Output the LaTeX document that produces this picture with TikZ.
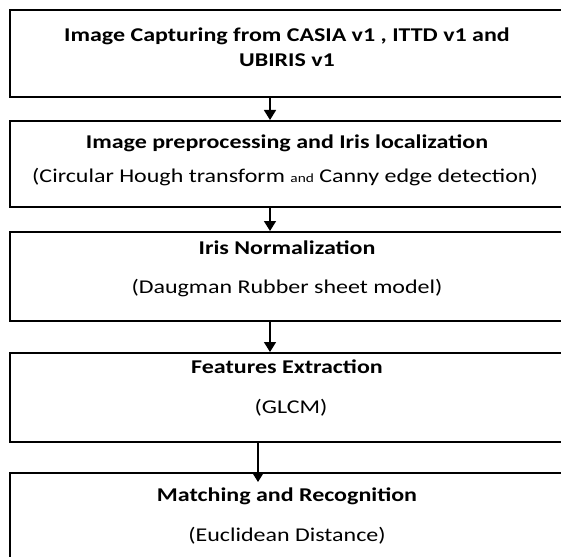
\documentclass[tikz,border=0pt]{standalone}
\usepackage{fontspec}
\setmainfont{Carlito}[FakeStretch=1.23]
\usetikzlibrary{arrows.meta}
\begin{document}
\begin{tikzpicture}[x=1pt,y=-1pt,
  box/.style={draw, line width=2pt, minimum width=565pt, inner sep=0pt},
  title/.style={font=\bfseries\fontsize{19.5}{25}\selectfont, inner sep=0pt, align=center},
  sub/.style={font=\fontsize{19.5}{24}\selectfont, inner sep=0pt},
  flow/.style={-{Triangle[length=10pt,width=12pt]}, line width=1.5pt}]
\useasboundingbox (0,0) rectangle (561,556);
\clip (0,0) rectangle (561,556);
% boxes
\node[box, minimum height=87pt] (b1) at (292.5,53.5) {};
\node[box, minimum height=86pt] (b2) at (292.5,164) {};
\node[box, minimum height=89pt] (b3) at (292.5,276.5) {};
\node[box, minimum height=89pt] (b4) at (292.5,397.5) {};
\node[box, minimum height=130pt] (b5) at (292.5,538) {};
% texts
\node[title] (t1) at (287,47) {Image Capturing from CASIA v1 , ITTD v1 and\\UBIRIS v1};
\node[title] (t2) at (287,143) {Image preprocessing and Iris localization};
\node[sub] (s2) at (285,177) {(Circular Hough transform {\fontsize{12.5}{14}\selectfont and} Canny edge detection)};
\node[title] (t3) at (287,248) {Iris Normalization};
\node[sub] (s3) at (287,288) {(Daugman Rubber sheet model)};
\node[title] (t4) at (287,367) {Features Extraction};
\node[sub] (s4) at (291,408) {(GLCM)};
\node[title] (t5) at (287,496) {Matching and Recognition};
\node[sub] (s5) at (287,536) {(Euclidean Distance)};
% arrows
\draw[flow] ([xshift=-22.5pt]b1.south) -- ([xshift=-22.5pt]b2.north);
\draw[flow] ([xshift=-22.5pt]b2.south) -- ([xshift=-22.5pt]b3.north);
\draw[flow] ([xshift=-22.5pt]b3.south) -- ([xshift=-22.5pt]b4.north);
\draw[flow] ([xshift=-34.5pt]b4.south) -- ([xshift=-34.5pt,yshift=-10pt]b5.north);
\end{tikzpicture}
\end{document}
